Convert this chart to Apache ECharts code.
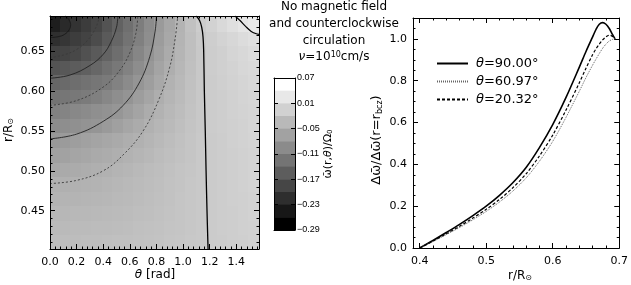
<!DOCTYPE html>
<html><head><meta charset="utf-8">
<script src="https://cdn.jsdelivr.net/npm/echarts@6/dist/echarts.min.js"></script>
<style>html,body{margin:0;padding:0;background:#fff}#c{width:631px;height:285px}</style>
</head><body><div id="c"></div>
<script>
// ---------- data: left panel (omega field, theta x r) ----------
const thetaCenters = [0.039,0.118,0.196,0.275,0.353,0.432,0.511,0.589,0.668,0.746,0.825,0.903,0.982,1.060,1.139,1.217,1.296,1.374,1.453,1.532];
const rCenters = [0.4111,0.4294,0.4476,0.4659,0.4841,0.5024,0.5206,0.5389,0.5571,0.5754,0.5936,0.6119,0.6301,0.6484,0.6666,0.6849];
const omega_r4111 = [-0.005,-0.0049,-0.0046,-0.0042,-0.0037,-0.003,-0.0022,-0.0013,-0.0002,0.001,0.0023,0.0037,0.0052,0.0069,0.0089,0.0107,0.0124,0.0141,0.0158,0.0175];
const omega_r4294 = [-0.0085,-0.0083,-0.0079,-0.0073,-0.0066,-0.0057,-0.0047,-0.0035,-0.0021,-0.0006,0.001,0.0027,0.0045,0.0065,0.0088,0.0108,0.0126,0.0144,0.0162,0.018];
const omega_r4476 = [-0.012,-0.0118,-0.0113,-0.0106,-0.0097,-0.0086,-0.0073,-0.0058,-0.0041,-0.0023,-0.0004,0.0016,0.0038,0.0062,0.0088,0.0109,0.0128,0.0147,0.0166,0.0185];
const omega_r4659 = [-0.0159,-0.0156,-0.015,-0.0141,-0.013,-0.0116,-0.0099,-0.008,-0.006,-0.0038,-0.0015,0.001,0.0035,0.006,0.0088,0.011,0.013,0.015,0.017,0.019];
const omega_r4841 = [-0.0199,-0.0195,-0.0187,-0.0175,-0.016,-0.0143,-0.0123,-0.0101,-0.0077,-0.0052,-0.0026,0.0002,0.003,0.0058,0.0087,0.0111,0.0132,0.0153,0.0174,0.0195];
const omega_r5024 = [-0.029,-0.027,-0.025,-0.023,-0.0212,-0.0188,-0.0157,-0.0127,-0.0097,-0.0066,-0.0036,-0.0006,0.0025,0.0055,0.0085,0.0111,0.0133,0.0155,0.0177,0.0199];
const omega_r5206 = [-0.0382,-0.0353,-0.0325,-0.0296,-0.0268,-0.024,-0.0211,-0.0178,-0.014,-0.0103,-0.0066,-0.0029,0.0009,0.0046,0.0083,0.0112,0.0135,0.0158,0.0181,0.0204];
const omega_r5389 = [-0.0476,-0.044,-0.0405,-0.0369,-0.0334,-0.0298,-0.0262,-0.0226,-0.0188,-0.0143,-0.0098,-0.0054,-0.0009,0.0036,0.0081,0.0114,0.0137,0.0161,0.0185,0.0208];
const omega_r5571 = [-0.0609,-0.0583,-0.0557,-0.053,-0.0504,-0.0445,-0.038,-0.0315,-0.025,-0.0188,-0.0134,-0.0081,-0.0028,0.0025,0.0079,0.0115,0.0141,0.0166,0.0192,0.0217];
const omega_r5754 = [-0.0734,-0.0694,-0.0656,-0.0617,-0.0578,-0.0539,-0.0499,-0.0416,-0.0332,-0.0249,-0.0174,-0.0111,-0.0048,0.0014,0.0078,0.0117,0.0145,0.0172,0.0199,0.0227];
const omega_r5936 = [-0.089,-0.086,-0.083,-0.0806,-0.074,-0.0667,-0.059,-0.0517,-0.042,-0.032,-0.0223,-0.0144,-0.0071,0.0002,0.0076,0.0119,0.0148,0.0177,0.0206,0.0236];
const omega_r6119 = [-0.104,-0.099,-0.095,-0.09,-0.086,-0.081,-0.072,-0.062,-0.051,-0.04,-0.0285,-0.018,-0.0094,-0.001,0.0075,0.012,0.0156,0.0188,0.022,0.0254];
const omega_r6301 = [-0.124,-0.12,-0.115,-0.111,-0.103,-0.093,-0.084,-0.072,-0.06,-0.047,-0.034,-0.022,-0.012,-0.002,0.007,0.013,0.016,0.02,0.024,0.027];
const omega_r6484 = [-0.146,-0.143,-0.138,-0.128,-0.118,-0.107,-0.095,-0.082,-0.068,-0.053,-0.039,-0.026,-0.014,-0.003,0.008,0.013,0.017,0.022,0.026,0.03];
const omega_r6666 = [-0.166,-0.159,-0.151,-0.144,-0.133,-0.118,-0.104,-0.089,-0.074,-0.058,-0.043,-0.029,-0.015,-0.003,0.009,0.0146,0.0198,0.025,0.03,0.035];
const omega_r6849 = [-0.186,-0.172,-0.162,-0.152,-0.141,-0.126,-0.109,-0.094,-0.078,-0.061,-0.045,-0.031,-0.016,-0.001,0.012,0.019,0.0265,0.034,0.041,0.046];
const omegaRows = [omega_r4111,omega_r4294,omega_r4476,omega_r4659,omega_r4841,omega_r5024,omega_r5206,omega_r5389,omega_r5571,omega_r5754,omega_r5936,omega_r6119,omega_r6301,omega_r6484,omega_r6666,omega_r6849];

// contour lines [theta, r]
const contourM17 = [[0,0.667],[0.06,0.668],[0.11,0.671],[0.145,0.677],[0.155,0.683],[0.14,0.690],[0.115,0.694]];
const contourM14 = [[0,0.642],[0.1,0.645],[0.2,0.652],[0.28,0.663],[0.33,0.675],[0.36,0.686],[0.37,0.694]];
const contourM11 = [[0,0.616],[0.15,0.620],[0.3,0.632],[0.4,0.646],[0.46,0.662],[0.5,0.680],[0.51,0.694]];
const contourM08 = [[0,0.582],[0.2,0.588],[0.4,0.605],[0.52,0.625],[0.6,0.648],[0.645,0.672],[0.66,0.694]];
const contourM05 = [[0,0.540],[0.2,0.546],[0.4,0.562],[0.55,0.582],[0.67,0.610],[0.75,0.643],[0.79,0.675],[0.80,0.694]];
const contourM02 = [[0,0.484],[0.2,0.488],[0.4,0.500],[0.55,0.52],[0.7,0.55],[0.82,0.59],[0.9,0.63],[0.94,0.665],[0.96,0.694]];
const contourP01 = [[1.10,0.694],[1.125,0.688],[1.14,0.68],[1.15,0.668],[1.155,0.65],[1.16,0.6],[1.167,0.55],[1.173,0.5],[1.18,0.45],[1.188,0.402]];
const contourP04 = [[1.39,0.694],[1.43,0.688],[1.47,0.681],[1.51,0.675],[1.545,0.672],[1.5708,0.671]];

const thetaTicks = [0.0,0.2,0.4,0.6,0.8,1.0,1.2,1.4];
const rTicks = [0.45,0.50,0.55,0.60,0.65];
const cbLevels = [0.07,0.04,0.01,-0.02,-0.05,-0.08,-0.11,-0.14,-0.17,-0.20,-0.23,-0.26,-0.29];
const cbTicks = [-0.29,-0.23,-0.17,-0.11,-0.05,0.01,0.07];

// ---------- data: right panel ----------
const rGrid     = [0.40,0.42,0.44,0.46,0.48,0.50,0.52,0.54,0.56,0.58,0.60,0.62,0.64,0.65,0.66,0.665,0.67,0.675,0.68,0.685,0.69,0.6937];
const ratio9000 = [0,0.036,0.074,0.113,0.155,0.200,0.252,0.312,0.385,0.48,0.59,0.72,0.865,0.94,1.01,1.045,1.07,1.078,1.07,1.05,1.02,1.0];
const ratio6097 = [0,0.031,0.064,0.098,0.135,0.175,0.22,0.272,0.335,0.415,0.51,0.625,0.75,0.815,0.875,0.903,0.93,0.955,0.975,0.99,0.998,1.0];
const ratio2032 = [0,0.033,0.068,0.104,0.143,0.185,0.232,0.288,0.355,0.44,0.54,0.66,0.79,0.86,0.925,0.952,0.975,0.995,1.01,1.018,1.012,1.0];
const seriesNames = ['θ=90.00°','θ=60.97°','θ=20.32°'];
const rRightTicks = [0.4,0.5,0.6,0.7];
const ratioTicks = [0.0,0.2,0.4,0.6,0.8,1.0];

// ---------- build ----------
const F = 'DejaVu Sans';
const TH_MAX = Math.PI/2, R_MIN = 0.402, R_MAX = 0.694;
function minors(lo, hi, step, majors){
  const out=[]; for(let v=lo; v<=hi+1e-9; v+=step){ const x=+v.toFixed(4); if(!majors.some(m=>Math.abs(m-x)<1e-6)) out.push(x);} return out;
}
const thetaMinor = minors(0, 1.56, 0.04, thetaTicks);
const rMinor = minors(0.41, 0.69, 0.01, rTicks);
const rRightMinor = minors(0.40, 0.70, 0.02, rRightTicks);
const ratioMinor = minors(0.05, 1.05, 0.05, ratioTicks);

const xAxes=[], yAxes=[];
function add(list,o){list.push(o);return list.length-1;}
function ax(gi,pos,min,max,ticks,len,line,label){
  return {type:'value',gridIndex:gi,position:pos,min:min,max:max,z:10,
    axisLine:{show:line,onZero:false,lineStyle:{color:'#000',width:1}},
    axisTick:{show:ticks.length>0,inside:true,length:len,customValues:ticks,lineStyle:{color:'#000',width:1}},
    axisLabel:label?Object.assign({show:true,color:'#000',fontFamily:F},label):{show:false},
    splitLine:{show:false},axisPointer:{show:false},silent:true};
}
// left panel axes
const xL = add(xAxes, ax(0,'bottom',0,TH_MAX,thetaTicks,5,true,{customValues:thetaTicks,formatter:v=>v.toFixed(1),fontSize:11,margin:8}));
add(xAxes, ax(0,'bottom',0,TH_MAX,thetaMinor,2.5,false));
add(xAxes, ax(0,'top',0,TH_MAX,thetaTicks,5,true));
add(xAxes, ax(0,'top',0,TH_MAX,thetaMinor,2.5,false));
const yL = add(yAxes, ax(0,'left',R_MIN,R_MAX,rTicks,5,true,{customValues:rTicks,formatter:v=>v.toFixed(2),fontSize:11,margin:5}));
add(yAxes, ax(0,'left',R_MIN,R_MAX,rMinor,2.5,false));
add(yAxes, ax(0,'right',R_MIN,R_MAX,rTicks,5,true));
add(yAxes, ax(0,'right',R_MIN,R_MAX,rMinor,2.5,false));
// colorbar axes
const xC = add(xAxes, ax(1,'bottom',0,1,[],0,true));
add(xAxes, ax(1,'top',0,1,[],0,true));
const yC = add(yAxes, ax(1,'left',-0.29,0.07,cbTicks,4,true));
add(yAxes, ax(1,'right',-0.29,0.07,cbTicks,4,true,{customValues:cbTicks,formatter:v=>(v<0?'\u2212':'')+Math.abs(v).toFixed(2),fontSize:9,fontFamily:'Liberation Sans',margin:2}));
// right panel axes
const xR = add(xAxes, ax(2,'bottom',0.39,0.70,rRightTicks,5,true,{customValues:rRightTicks,formatter:v=>v.toFixed(1),fontSize:11,margin:8}));
add(xAxes, ax(2,'bottom',0.39,0.70,rRightMinor,2.5,false));
add(xAxes, ax(2,'top',0.39,0.70,rRightTicks,5,true));
add(xAxes, ax(2,'top',0.39,0.70,rRightMinor,2.5,false));
const yR = add(yAxes, ax(2,'left',0,1.1,ratioTicks,5,true,{customValues:ratioTicks,formatter:v=>v.toFixed(1),fontSize:11,margin:6}));
add(yAxes, ax(2,'left',0,1.1,ratioMinor,2.5,false));
add(yAxes, ax(2,'right',0,1.1,ratioTicks,5,true));
add(yAxes, ax(2,'right',0,1.1,ratioMinor,2.5,false));

// heatmap cells
function edges(c, lo, hi){ const e=[lo]; for(let i=1;i<c.length;i++) e.push((c[i-1]+c[i])/2); e.push(hi); return e; }
const thE = edges(thetaCenters, 0, TH_MAX), rE = edges(rCenters, R_MIN, R_MAX);
const cells=[];
rCenters.forEach((r,j)=>thetaCenters.forEach((t,i)=>cells.push([t,r,omegaRows[j][i],thE[i],thE[i+1],rE[j],rE[j+1]])));

const series=[];
series.push({type:'custom',name:'field',xAxisIndex:xL,yAxisIndex:yL,clip:true,silent:true,
  encode:{x:0,y:1},data:cells,
  renderItem:(p,api)=>{const a=api.coord([api.value(3),api.value(6)]),b=api.coord([api.value(4),api.value(5)]);
    return {type:'rect',shape:{x:Math.floor(a[0]),y:Math.floor(a[1]),width:Math.ceil(b[0]-a[0])+1,height:Math.ceil(b[1]-a[1])+1},style:{fill:api.visual('color')}};}});
function cline(d, color, w, type){
  series.push({type:'line',xAxisIndex:xL,yAxisIndex:yL,data:d,showSymbol:false,symbol:'none',smooth:0.4,clip:true,silent:true,
    lineStyle:{color:color,width:w,type:type}});
}
cline(contourM17,'#1a1a1a',0.9,'solid');
cline(contourM14,'#3a3a3a',0.9,[2,2]);
cline(contourM11,'#222',0.9,'solid');
cline(contourM08,'#3a3a3a',0.9,[2,2]);
cline(contourM05,'#222',0.9,'solid');
cline(contourM02,'#3a3a3a',0.9,[2,2]);
cline(contourP01,'#000',1.3,'solid');
cline(contourP04,'#000',1.2,'solid');

// colorbar bands
const bands = cbLevels.slice(0,-1).map((top,i)=>[i,top,cbLevels[i+1]]);
series.push({type:'custom',xAxisIndex:xC,yAxisIndex:yC,silent:true,data:bands,encode:{y:1},
  renderItem:(p,api)=>{const i=api.value(0);const a=api.coord([0,api.value(1)]),b=api.coord([1,api.value(2)]);
    const g=Math.round(255*(11-i)/11);
    return {type:'rect',shape:{x:a[0],y:a[1],width:b[0]-a[0],height:b[1]-a[1]+0.5},style:{fill:'rgb('+g+','+g+','+g+')'}};}});

// right panel lines
const mk = arr => rGrid.map((r,i)=>[r,arr[i]]);
series.push({type:'line',name:seriesNames[0],xAxisIndex:xR,yAxisIndex:yR,data:mk(ratio9000),showSymbol:false,symbol:'none',smooth:0.3,
  lineStyle:{color:'#000',width:1.6,type:'solid'},itemStyle:{color:'#000'}});
series.push({type:'line',name:seriesNames[1],xAxisIndex:xR,yAxisIndex:yR,data:mk(ratio6097),showSymbol:false,symbol:'none',smooth:0.3,
  lineStyle:{color:'#666',width:1,type:[1,1]},itemStyle:{color:'#666'}});
series.push({type:'line',name:seriesNames[2],xAxisIndex:xR,yAxisIndex:yR,data:mk(ratio2032),showSymbol:false,symbol:'none',smooth:0.3,
  lineStyle:{color:'#000',width:1.2,type:[3,2]},itemStyle:{color:'#000'}});

const txt = (x,y,text,rich,extra,size)=>Object.assign({type:'text',x:x,y:y,silent:true,
  style:{text:text,fill:'#000',font:(size||12)+'px "'+F+'"',align:'center',verticalAlign:'middle',rich:rich||{}}},extra||{});
const mkRich = s => ({i:{fontStyle:'italic',fontSize:s,fontFamily:F,fill:'#000'},
  s:{fontSize:Math.round(s*0.65),fontFamily:F,fill:'#000',verticalAlign:'bottom'},
  sup:{fontSize:Math.round(s*0.65),fontFamily:F,fill:'#000',verticalAlign:'top'}});

const option = {
  animation:false, backgroundColor:'#fff',
  grid:[{left:50,top:16,width:209,height:233},{left:274,top:78,width:21,height:152},{left:413,top:18,width:213,height:230}],
  xAxis:xAxes, yAxis:yAxes,
  visualMap:{type:'continuous',show:false,min:-0.22,max:0.07,dimension:2,seriesIndex:0,inRange:{color:['#000000','#ffffff']}},
  legend:{data:seriesNames,orient:'vertical',left:431,top:52,itemWidth:31,itemHeight:10,itemGap:5,
    itemStyle:{opacity:0,borderWidth:0},
    formatter:n=>'{i|θ}'+n.slice(1),
    textStyle:{fontFamily:F,fontSize:13,color:'#000',padding:[0,0,0,3],rich:{i:{fontStyle:'italic',fontFamily:F,fontSize:13,color:'#000'}}}},
  series:series,
  graphic:[
    txt(334,7,'No magnetic field'),
    txt(334,24,'and counterclockwise'),
    txt(334,41,'circulation'),
    txt(334,57,'{i|ν}=10{sup|10}cm/s',mkRich(12)),
    txt(9,130,'r/R{s|⊙}',mkRich(12),{rotation:Math.PI/2}),
    txt(155,275,'{i|θ} [rad]',mkRich(12)),
    txt(328,154,'ω\u0304(r,{i|θ})/Ω{s|0}',mkRich(11),{rotation:Math.PI/2},11),
    txt(377,140,'Δω\u0304/Δω\u0304(r=r{s|bcz})',mkRich(13),{rotation:Math.PI/2},13),
    txt(520,276,'r/R{s|⊙}',mkRich(12))
  ]
};
const chart = echarts.init(document.getElementById('c'),null,{renderer:'canvas',width:631,height:285});
chart.setOption(option);
</script></body></html>
